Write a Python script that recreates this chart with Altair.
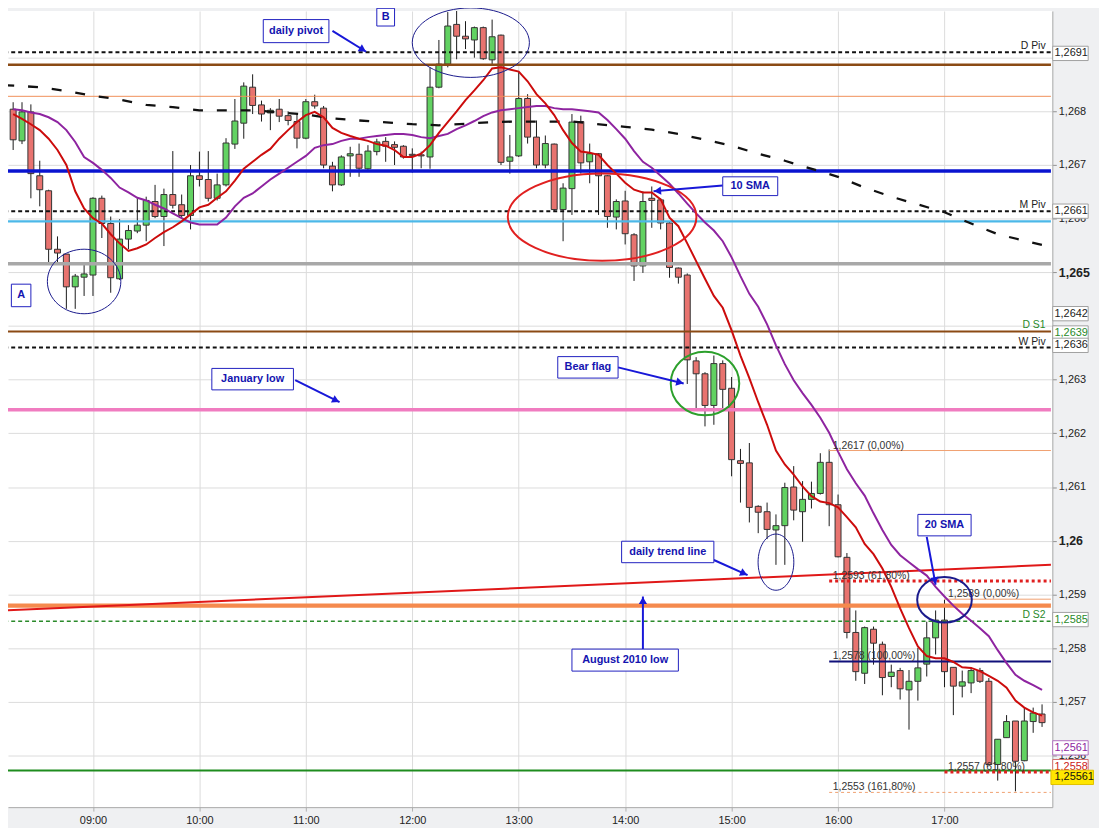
import math
import altair as alt
import pandas as pd

# ---------------- data ----------------
times = [
    "08:15", "08:20", "08:25", "08:30", "08:35", "08:40", "08:45", "08:50", "08:55",
    "09:00", "09:05", "09:10", "09:15", "09:20", "09:25", "09:30", "09:35", "09:40", "09:45", "09:50", "09:55",
    "10:00", "10:05", "10:10", "10:15", "10:20", "10:25", "10:30", "10:35", "10:40", "10:45", "10:50", "10:55",
    "11:00", "11:05", "11:10", "11:15", "11:20", "11:25", "11:30", "11:35", "11:40", "11:45", "11:50", "11:55",
    "12:00", "12:05", "12:10", "12:15", "12:20", "12:25", "12:30", "12:35", "12:40", "12:45", "12:50", "12:55",
    "13:00", "13:05", "13:10", "13:15", "13:20", "13:25", "13:30", "13:35", "13:40", "13:45", "13:50", "13:55",
    "14:00", "14:05", "14:10", "14:15", "14:20", "14:25", "14:30", "14:35", "14:40", "14:45", "14:50", "14:55",
    "15:00", "15:05", "15:10", "15:15", "15:20", "15:25", "15:30", "15:35", "15:40", "15:45", "15:50", "15:55",
    "16:00", "16:05", "16:10", "16:15", "16:20", "16:25", "16:30", "16:35", "16:40", "16:45", "16:50", "16:55",
    "17:00", "17:05", "17:10", "17:15", "17:20", "17:25", "17:30", "17:35", "17:40", "17:45", "17:50", "17:55",
]
opens = [
    1.26804, 1.26745, 1.26799, 1.26680, 1.26652, 1.26543, 1.26534, 1.26473, 1.26491,
    1.26495, 1.26638, 1.26591, 1.26488, 1.26562, 1.26577, 1.26588, 1.26632, 1.26604, 1.26645, 1.26626, 1.26606,
    1.26680, 1.26673, 1.26638, 1.26663, 1.26739, 1.26778, 1.26845, 1.26812, 1.26797, 1.26804, 1.26792, 1.26781,
    1.26750, 1.26818, 1.26806, 1.26698, 1.26663, 1.26717, 1.26720, 1.26693, 1.26725, 1.26744, 1.26738, 1.26735,
    1.26720, 1.26719, 1.26715, 1.26845, 1.26888, 1.26962, 1.26940, 1.26933, 1.26956, 1.26896, 1.26942, 1.26707,
    1.26717, 1.26824, 1.26752, 1.26700, 1.26739, 1.26617, 1.26656, 1.26781, 1.26706, 1.26721, 1.26680, 1.26603,
    1.26633, 1.26570, 1.26512, 1.26638, 1.26635, 1.26592, 1.26508, 1.26495, 1.26335, 1.26311, 1.26252, 1.26330,
    1.26284, 1.26149, 1.26145, 1.26064, 1.26054, 1.26020, 1.26028, 1.26100, 1.26054, 1.26077, 1.26088, 1.26146,
    1.26067, 1.25969, 1.25829, 1.25753, 1.25835, 1.25807, 1.25747, 1.25758, 1.25722, 1.25738, 1.25770, 1.25819,
    1.25852, 1.25764, 1.25729, 1.25735, 1.25758, 1.25738, 1.25583, 1.25633, 1.25664, 1.25590, 1.25663, 1.25677,
]
highs = [
    1.26817, 1.26817, 1.26813, 1.26708, 1.26654, 1.26567, 1.26534, 1.26497, 1.26514,
    1.26640, 1.26643, 1.26604, 1.26599, 1.26588, 1.26638, 1.26641, 1.26663, 1.26656, 1.26726, 1.26645, 1.26700,
    1.26725, 1.26726, 1.26684, 1.26750, 1.26823, 1.26854, 1.26869, 1.26820, 1.26806, 1.26823, 1.26800, 1.26795,
    1.26823, 1.26831, 1.26810, 1.26706, 1.26718, 1.26734, 1.26740, 1.26737, 1.26749, 1.26752, 1.26744, 1.26737,
    1.26731, 1.26725, 1.26882, 1.26933, 1.26985, 1.26993, 1.26968, 1.26958, 1.26958, 1.26971, 1.26943, 1.26756,
    1.26873, 1.26832, 1.26783, 1.26755, 1.26740, 1.26666, 1.26795, 1.26792, 1.26740, 1.26722, 1.26681, 1.26636,
    1.26652, 1.26573, 1.26651, 1.26660, 1.26638, 1.26595, 1.26509, 1.26498, 1.26342, 1.26314, 1.26345, 1.26336,
    1.26305, 1.26171, 1.26182, 1.26066, 1.26071, 1.26049, 1.26108, 1.26139, 1.26111, 1.26110, 1.26163, 1.26170,
    1.26086, 1.25977, 1.25870, 1.25840, 1.25840, 1.25812, 1.25769, 1.25763, 1.25759, 1.25800, 1.25849, 1.25870,
    1.25890, 1.25764, 1.25758, 1.25764, 1.25763, 1.25744, 1.25630, 1.25675, 1.25664, 1.25689, 1.25689, 1.25695,
]
lows = [
    1.26728, 1.26739, 1.26638, 1.26623, 1.26517, 1.26517, 1.26432, 1.26432, 1.26456,
    1.26456, 1.26564, 1.26462, 1.26486, 1.26543, 1.26573, 1.26558, 1.26601, 1.26549, 1.26619, 1.26601, 1.26580,
    1.26660, 1.26632, 1.26634, 1.26660, 1.26730, 1.26749, 1.26795, 1.26781, 1.26765, 1.26780, 1.26774, 1.26731,
    1.26748, 1.26805, 1.26694, 1.26651, 1.26661, 1.26678, 1.26678, 1.26691, 1.26718, 1.26706, 1.26700, 1.26712,
    1.26686, 1.26694, 1.26693, 1.26843, 1.26882, 1.26897, 1.26916, 1.26900, 1.26896, 1.26885, 1.26700, 1.26684,
    1.26715, 1.26740, 1.26694, 1.26694, 1.26614, 1.26558, 1.26607, 1.26684, 1.26666, 1.26607, 1.26583, 1.26580,
    1.26552, 1.26484, 1.26499, 1.26583, 1.26580, 1.26490, 1.26479, 1.26292, 1.26247, 1.26213, 1.26216, 1.26247,
    1.26120, 1.26071, 1.26034, 1.26014, 1.26003, 1.25955, 1.25955, 1.26038, 1.25998, 1.26060, 1.26086, 1.26027,
    1.25969, 1.25818, 1.25739, 1.25733, 1.25769, 1.25712, 1.25727, 1.25704, 1.25648, 1.25702, 1.25747, 1.25788,
    1.25727, 1.25675, 1.25708, 1.25716, 1.25735, 1.25583, 1.25553, 1.25633, 1.25533, 1.25589, 1.25642, 1.25653,
]
closes = [
    1.26747, 1.26799, 1.26684, 1.26654, 1.26543, 1.26536, 1.26473, 1.26493, 1.26497,
    1.26638, 1.26591, 1.26490, 1.26562, 1.26578, 1.26588, 1.26634, 1.26604, 1.26645, 1.26625, 1.26606, 1.26680,
    1.26673, 1.26638, 1.26663, 1.26741, 1.26782, 1.26847, 1.26811, 1.26795, 1.26802, 1.26791, 1.26783, 1.26750,
    1.26818, 1.26810, 1.26700, 1.26663, 1.26715, 1.26721, 1.26694, 1.26726, 1.26743, 1.26735, 1.26733, 1.26715,
    1.26718, 1.26717, 1.26845, 1.26888, 1.26959, 1.26940, 1.26935, 1.26956, 1.26898, 1.26939, 1.26705, 1.26715,
    1.26824, 1.26752, 1.26700, 1.26740, 1.26617, 1.26657, 1.26780, 1.26704, 1.26721, 1.26680, 1.26604, 1.26632,
    1.26572, 1.26512, 1.26632, 1.26634, 1.26592, 1.26509, 1.26491, 1.26337, 1.26311, 1.26252, 1.26330, 1.26282,
    1.26151, 1.26144, 1.26062, 1.26053, 1.26021, 1.26028, 1.26099, 1.26057, 1.26077, 1.26088, 1.26146, 1.26067,
    1.25970, 1.25829, 1.25756, 1.25838, 1.25809, 1.25745, 1.25755, 1.25724, 1.25738, 1.25763, 1.25819, 1.25852,
    1.25756, 1.25729, 1.25737, 1.25758, 1.25738, 1.25583, 1.25630, 1.25663, 1.25589, 1.25664, 1.25679, 1.25661,
]
sma10 = [
    1.26795, 1.26786, 1.26776, 1.26765, 1.26749, 1.26728, 1.26700, 1.26651, 1.26619,
    1.26601, 1.26591, 1.26571, 1.26554, 1.26540, 1.26545, 1.26552, 1.26564, 1.26575, 1.26584, 1.26595, 1.26608,
    1.26621, 1.26626, 1.26639, 1.26651, 1.26671, 1.26693, 1.26706, 1.26719, 1.26730, 1.26749, 1.26765, 1.26780,
    1.26793, 1.26799, 1.26789, 1.26769, 1.26760, 1.26754, 1.26749, 1.26745, 1.26739, 1.26736, 1.26728, 1.26715,
    1.26715, 1.26721, 1.26737, 1.26760, 1.26780, 1.26800, 1.26821, 1.26839, 1.26858, 1.26880, 1.26882, 1.26878,
    1.26874, 1.26856, 1.26832, 1.26815, 1.26793, 1.26765, 1.26741, 1.26725, 1.26723, 1.26719, 1.26700, 1.26684,
    1.26667, 1.26654, 1.26649, 1.26649, 1.26636, 1.26602, 1.26586, 1.26554, 1.26521, 1.26488, 1.26456, 1.26434,
    1.26392, 1.26345, 1.26303, 1.26258, 1.26216, 1.26168, 1.26142, 1.26123, 1.26101, 1.26083, 1.26073, 1.26070,
    1.26062, 1.26044, 1.26025, 1.25994, 1.25975, 1.25948, 1.25914, 1.25874, 1.25837, 1.25803, 1.25785, 1.25781,
    1.25781, 1.25774, 1.25764, 1.25763, 1.25757, 1.25748, 1.25739, 1.25726, 1.25702, 1.25689, 1.25680, 1.25674,
]
sma20 = [
    1.26804, 1.26802, 1.26798, 1.26795, 1.26789, 1.26780, 1.26765, 1.26743, 1.26715,
    1.26704, 1.26691, 1.26676, 1.26658, 1.26649, 1.26639, 1.26634, 1.26626, 1.26619, 1.26610, 1.26601, 1.26593,
    1.26589, 1.26589, 1.26589, 1.26602, 1.26623, 1.26639, 1.26647, 1.26660, 1.26673, 1.26684, 1.26695, 1.26706,
    1.26717, 1.26732, 1.26737, 1.26739, 1.26745, 1.26749, 1.26749, 1.26752, 1.26754, 1.26756, 1.26758, 1.26758,
    1.26756, 1.26752, 1.26750, 1.26754, 1.26758, 1.26767, 1.26774, 1.26782, 1.26791, 1.26798, 1.26802, 1.26804,
    1.26806, 1.26808, 1.26810, 1.26810, 1.26806, 1.26804, 1.26804, 1.26802, 1.26800, 1.26798, 1.26784, 1.26767,
    1.26749, 1.26726, 1.26706, 1.26695, 1.26680, 1.26665, 1.26647, 1.26628, 1.26610, 1.26593, 1.26578, 1.26558,
    1.26528, 1.26493, 1.26460, 1.26436, 1.26403, 1.26364, 1.26329, 1.26299, 1.26275, 1.26253, 1.26229, 1.26201,
    1.26166, 1.26133, 1.26107, 1.26084, 1.26051, 1.26020, 1.25992, 1.25973, 1.25960, 1.25947, 1.25935, 1.25914,
    1.25896, 1.25879, 1.25864, 1.25851, 1.25837, 1.25822, 1.25796, 1.25772, 1.25750, 1.25739, 1.25731, 1.25722,
]

# long (dashed) moving average, read at a coarser step
ma_times = ["08:10", "08:30", "08:45", "09:00", "09:15", "09:30", "09:45", "10:00", "10:15", "10:30",
            "11:00", "11:15", "11:30", "12:00", "12:15", "12:30", "12:45", "13:00", "13:30", "14:00",
            "14:15", "14:30", "14:45", "15:00", "15:15", "15:30", "16:00", "16:15", "16:30", "17:00",
            "17:15", "17:30", "18:00"]
ma_values = [1.26849, 1.26845, 1.26838, 1.26829, 1.26822, 1.26812, 1.26808, 1.26802, 1.26802, 1.26802,
             1.26794, 1.26787, 1.26783, 1.26776, 1.26774, 1.26777, 1.26780, 1.26781, 1.26781, 1.26771,
             1.26766, 1.26758, 1.26747, 1.26736, 1.26721, 1.26708, 1.26678, 1.26658, 1.26641, 1.26612,
             1.26591, 1.26571, 1.26547]

# horizontal levels (full width)
level_names = ["brown_r", "orange_r", "D Piv", "blue", "light_blue", "M Piv", "gray",
               "D S1", "W Piv", "January low", "August 2010 low", "D S2", "green_low"]
level_prices = [1.26887, 1.26828, 1.2691, 1.26689, 1.26595, 1.26614, 1.26516,
                1.2639, 1.2636, 1.26244, 1.25879, 1.2585, 1.25572]

# fibonacci levels (start at a given candle)
fib_texts = ["1,2617 (0,00%)", "1,2593 (61,80%)", "1,2578 (100,00%)", "1,2553 (161,80%)",
             "1,2589 (0,00%)", "1,2557 (61,80%)"]
fib_prices = [1.26168, 1.25925, 1.25775, 1.25531, 1.25891, 1.25569]
fib_starts = ["15:55", "15:55", "15:55", "15:55", "17:00", "17:00"]

# daily trend line
trend_times = ["08:10", "18:00"]
trend_prices = [1.25870, 1.25955]

# line names written at the right end of the plot
tag_texts = ["D Piv", "M Piv", "D S1", "W Piv", "D S2"]
tag_prices = [1.2691, 1.26614, 1.2639, 1.2636, 1.2585]

# price boxes on the right axis
pbox_texts = ["1,2691", "1,2661", "1,2642", "1,2639", "1,2636", "1,2585", "1,2561", "1,2558", "1,25561"]
pbox_prices = [1.26908, 1.26614, 1.26423, 1.26387, 1.26364, 1.25853, 1.25614, 1.25579, 1.25559]

# annotation boxes
note_texts = ["daily pivot", "B", "A", "10 SMA", "Bear flag", "January low",
              "daily trend line", "August 2010 low", "20 SMA"]
note_t0 = ["10:36", "11:40", "08:14", "14:55", "13:22", "10:07", "13:58", "13:30", "16:45"]
note_t1 = ["11:13", "11:50", "08:25", "15:26", "13:56", "10:53", "14:50", "14:30", "17:15"]
note_top = [1.26971, 1.26992, 1.26478, 1.26678, 1.26343, 1.26321, 1.25999, 1.25798, 1.26049]
note_bottom = [1.26928, 1.26959, 1.26436, 1.26643, 1.26303, 1.26281, 1.25959, 1.25757, 1.26009]

# arrows
arrow_t0 = ["11:15", "14:55", "13:56", "10:54", "14:50", "14:10", "16:50"]
arrow_p0 = [1.26950, 1.26662, 1.26323, 1.26299, 1.25964, 1.25798, 1.26007]
arrow_t1 = ["11:34", "14:16", "14:33", "11:19", "15:09", "14:10", "16:55"]
arrow_p1 = [1.26911, 1.26651, 1.26293, 1.26258, 1.25936, 1.25896, 1.25918]

# ellipses
ell_t = ["08:55", "12:33", "13:47", "14:45", "15:25", "17:00"]
ell_p = [1.26483, 1.26928, 1.26603, 1.26293, 1.25960, 1.25890]

x_tick_labels = ["09:00", "10:00", "11:00", "12:00", "13:00", "14:00", "15:00", "16:00", "17:00"]
y_ticks = [1.256, 1.257, 1.258, 1.259, 1.26, 1.261, 1.262, 1.263, 1.264, 1.265,
           1.266, 1.267, 1.268, 1.269]
# tick labels that are covered by price boxes in the picture
y_hidden_labels = [1.264, 1.269]


def tmin(s):
    h, m = s.split(":")
    return int(h) * 60 + int(m)


# ---------------- layout / scales ----------------
W, H = 1052, 802
X_DOM = [494.9, 1078.0]
Y_DOM = [1.255035, 1.26987]
PX_MIN = W / (X_DOM[1] - X_DOM[0])
PX_PRICE = H / (Y_DOM[1] - Y_DOM[0])
FONT = "Liberation Sans"
xs = alt.Scale(domain=X_DOM, nice=False, zero=False)
ys = alt.Scale(domain=Y_DOM, nice=False, zero=False)

x_axis = alt.Axis(
    values=[tmin(s) for s in x_tick_labels],
    labelExpr="(datum.value < 600 ? '0' : '') + floor(datum.value / 60) + ':00'",
    grid=True, gridColor="#dcdcdc", gridWidth=1,
    domainColor="#a8a8a8", tickColor="#b0b0b0", tickSize=4,
    labelFont=FONT, labelFontSize=11, labelColor="#222222", labelPadding=3,
    labelOverlap=False, labelFlush=False, title=None,
)
bold_test = "abs(datum.value * 200 - round(datum.value * 200)) < 0.01"
hide_test = " || ".join(f"abs(datum.value - {v}) < 0.0001" for v in y_hidden_labels)
y_axis = alt.Axis(
    orient="right", values=y_ticks,
    labelExpr=f"({hide_test}) ? '' : replace(format(datum.value, '.3~f'), '.', ',')",
    grid=True, gridColor="#dcdcdc", gridWidth=1,
    domainColor="#a8a8a8", tickColor="#909090", tickSize=4,
    labelFont=FONT, labelColor="#222222", labelPadding=2, labelOverlap=False, labelFlush=False,
    labelFontSize={"condition": {"test": bold_test, "value": 12.5}, "value": 11},
    labelFontWeight={"condition": {"test": bold_test, "value": "bold"}, "value": "normal"},
    title=None,
)


def X(f):
    return alt.X(f, type="quantitative", scale=xs, axis=x_axis)


def Y(f):
    return alt.Y(f, type="quantitative", scale=ys, axis=y_axis)


layers = []

# ---------------- candles ----------------
cdf = pd.DataFrame({"t": [tmin(s) for s in times], "o": opens, "h": highs, "l": lows, "c": closes})
cdf["dir"] = ["up" if c >= o else "down" for o, c in zip(opens, closes)]

wick = alt.Chart(cdf).mark_rule(color="#1a1a1a", strokeWidth=1, clip=True).encode(
    x=X("t"), y=Y("l"), y2="h:Q",
)
body = alt.Chart(cdf).mark_bar(width=6, stroke="#333333", strokeWidth=1, clip=True).encode(
    x=X("t"), y=Y("o"), y2="c:Q",
    color=alt.Color("dir:N", scale=alt.Scale(domain=["up", "down"], range=["#62d262", "#e8736f"]), legend=None),
)
layers += [wick, body]

# ---------------- horizontal levels ----------------
level_style = {
    "brown_r": dict(color="#8b4a14", strokeWidth=2.5),
    "orange_r": dict(color="#f0905a", strokeWidth=1),
    "D Piv": dict(color="#111111", strokeWidth=2, strokeDash=[4, 3]),
    "blue": dict(color="#0a14d0", strokeWidth=3.5),
    "light_blue": dict(color="#4cb8e8", strokeWidth=2.5),
    "M Piv": dict(color="#111111", strokeWidth=2, strokeDash=[4, 3]),
    "gray": dict(color="#a8a8a8", strokeWidth=3.5),
    "D S1": dict(color="#8b4a14", strokeWidth=2),
    "W Piv": dict(color="#111111", strokeWidth=2, strokeDash=[4, 3]),
    "January low": dict(color="#f07cc0", strokeWidth=3.5),
    "August 2010 low": dict(color="#f58a4e", strokeWidth=4.5),
    "D S2": dict(color="#2a8a2a", strokeWidth=1.5, strokeDash=[4, 3]),
    "green_low": dict(color="#1e8c1e", strokeWidth=2),
}
for name, p in zip(level_names, level_prices):
    d = pd.DataFrame({"t0": [tmin("08:10")], "t1": [tmin("18:00")], "p": [p]})
    layers.append(alt.Chart(d).mark_rule(clip=True, **level_style[name]).encode(
        x=X("t0"), x2="t1:Q", y=Y("p")))

# trend line
tdf = pd.DataFrame({"t0": [tmin(trend_times[0])], "t1": [tmin(trend_times[1])],
                    "p0": [trend_prices[0]], "p1": [trend_prices[1]]})
layers.append(alt.Chart(tdf).mark_rule(color="#e01818", strokeWidth=2, clip=True).encode(
    x=X("t0"), x2="t1:Q", y=Y("p0"), y2="p1:Q"))

# fib lines
fib_style = [
    dict(color="#f0a070", strokeWidth=1),
    dict(color="#e02020", strokeWidth=3, strokeDash=[3, 3]),
    dict(color="#10107a", strokeWidth=2),
    dict(color="#f0a070", strokeWidth=1, strokeDash=[3, 3]),
    dict(color="#f0a070", strokeWidth=1),
    dict(color="#e02020", strokeWidth=3, strokeDash=[3, 3]),
]
for st, p, s in zip(fib_style, fib_prices, fib_starts):
    d = pd.DataFrame({"t0": [tmin(s)], "t1": [tmin("18:00")], "p": [p]})
    layers.append(alt.Chart(d).mark_rule(clip=True, **st).encode(x=X("t0"), x2="t1:Q", y=Y("p")))

# ---------------- moving averages ----------------
madf = pd.DataFrame({"t": [tmin(s) for s in ma_times], "v": ma_values})
layers.append(alt.Chart(madf).mark_line(color="#111111", strokeWidth=2.3, strokeDash=[10, 14], clip=True)
              .encode(x=X("t"), y=Y("v")))
sdf = pd.DataFrame({"t": [tmin(s) for s in times], "s10": sma10, "s20": sma20})
layers.append(alt.Chart(sdf).mark_line(color="#8e24a0", strokeWidth=2, clip=True).encode(x=X("t"), y=Y("s20")))
layers.append(alt.Chart(sdf).mark_line(color="#cc0c0c", strokeWidth=2, clip=True).encode(x=X("t"), y=Y("s10")))

# ---------------- texts on lines ----------------
tag_colors = {"D Piv": "#222222", "M Piv": "#222222", "D S1": "#2a8a2a", "W Piv": "#222222", "D S2": "#2a8a2a"}
for txt, p in zip(tag_texts, tag_prices):
    d = pd.DataFrame({"t": [tmin("17:57")], "p": [p], "txt": [txt]})
    layers.append(alt.Chart(d).mark_text(align="right", baseline="middle", dy=-6, font=FONT,
                                         fontSize=10.5, color=tag_colors[txt])
                  .encode(x=X("t"), y=Y("p"), text="txt:N"))

fdf = pd.DataFrame({"t": [tmin(s) + 2 for s in fib_starts], "p": fib_prices, "txt": fib_texts})
layers.append(alt.Chart(fdf).mark_text(align="left", baseline="middle", dy=-5, font=FONT,
                                       fontSize=10.5, color="#333333")
              .encode(x=X("t"), y=Y("p"), text="txt:N"))

# ---------------- price boxes on the axis ----------------
pbox_style = {
    "1,2691": ("#222222", "#a0a0a0", "white"),
    "1,2661": ("#222222", "#a0a0a0", "white"),
    "1,2642": ("#222222", "#a0a0a0", "white"),
    "1,2639": ("#2a8a2a", "#a0a0a0", "white"),
    "1,2636": ("#222222", "#a0a0a0", "white"),
    "1,2585": ("#2a8a2a", "#a0a0a0", "white"),
    "1,2561": ("#8e24a0", "#b070c0", "white"),
    "1,2558": ("#cc2020", "#d07070", "white"),
    "1,25561": ("#111111", "#e0c000", "#ffe600"),
}
half = 7.2 / PX_PRICE
for txt, p in zip(pbox_texts, pbox_prices):
    tc, bc, fc = pbox_style[txt]
    right = tmin("18:24") if len(txt) > 6 else tmin("18:21")
    d = pd.DataFrame({"t0": [tmin("18:00") if len(txt) > 6 else tmin("18:01")], "t1": [right],
                      "top": [p + half], "bot": [p - half], "p": [p], "tt": [tmin("18:02")], "txt": [txt]})
    base = alt.Chart(d)
    layers.append(base.mark_rect(fill=fc, stroke=bc, strokeWidth=1).encode(
        x=X("t0"), x2="t1:Q", y=Y("top"), y2="bot:Q"))
    layers.append(base.mark_text(align="left", baseline="middle", font=FONT, fontSize=11, color=tc)
                  .encode(x=X("tt"), y=Y("p"), text="txt:N"))

# ---------------- ellipses ----------------
ell_radii = [(37, 32.5), (59, 35), (95, 44), (34.5, 32), (18, 28.3), (27.5, 23)]
ell_style = [("#1a1a8c", 1), ("#1a1a8c", 1), ("#e02020", 2), ("#2ca02c", 2), ("#1a1a8c", 1), ("#1a1a8c", 2)]
K = 0.5523
for t, p, (rx, ry), (col, sw) in zip(ell_t, ell_p, ell_radii, ell_style):
    m = max(rx, ry)
    a, b = rx / m, ry / m
    path = (f"M {a} 0 C {a} {K*b} {K*a} {b} 0 {b} C {-K*a} {b} {-a} {K*b} {-a} 0 "
            f"C {-a} {-K*b} {-K*a} {-b} 0 {-b} C {K*a} {-b} {a} {-K*b} {a} 0 Z")
    d = pd.DataFrame({"t": [tmin(t)], "p": [p]})
    layers.append(alt.Chart(d).mark_point(shape=path, filled=False, stroke=col, strokeWidth=sw,
                                          size=4 * m * m, opacity=1)
                  .encode(x=X("t"), y=Y("p")))

# ---------------- arrows ----------------
BLUE = "#1818d8"
rows = []
for t0s, p0, t1s, p1 in zip(arrow_t0, arrow_p0, arrow_t1, arrow_p1):
    t0, t1 = tmin(t0s), tmin(t1s)
    dx = (t1 - t0) * PX_MIN
    dy = -(p1 - p0) * PX_PRICE
    L = math.hypot(dx, dy)
    ux, uy = dx / L, dy / L
    ang = math.degrees(math.atan2(dx, -dy)) % 360
    rows.append({"t0": t0, "p0": p0, "t1": t1, "p1": p1,
                 "th": t1 - ux * 4 / PX_MIN, "ph": p1 + uy * 4 / PX_PRICE, "ang": ang})
adf = pd.DataFrame(rows)
layers.append(alt.Chart(adf).mark_rule(color=BLUE, strokeWidth=2).encode(
    x=X("t0"), x2="t1:Q", y=Y("p0"), y2="p1:Q"))
layers.append(alt.Chart(adf).mark_point(shape="triangle-up", filled=True, color=BLUE, size=70, opacity=1)
              .encode(x=X("th"), y=Y("ph"), angle=alt.Angle("ang:Q", scale=None)))

# ---------------- annotation boxes ----------------
ndf = pd.DataFrame({
    "t0": [tmin(s) for s in note_t0], "t1": [tmin(s) for s in note_t1],
    "top": note_top, "bot": note_bottom, "txt": note_texts,
})
ndf["tc"] = (ndf["t0"] + ndf["t1"]) / 2
ndf["pc"] = (ndf["top"] + ndf["bot"]) / 2
layers.append(alt.Chart(ndf).mark_rect(fill="white", stroke="#2020c0", strokeWidth=1).encode(
    x=X("t0"), x2="t1:Q", y=Y("top"), y2="bot:Q"))
layers.append(alt.Chart(ndf).mark_text(align="center", baseline="middle", font=FONT, fontSize=11,
                                       fontWeight="bold", color="#1414b0")
              .encode(x=X("tc"), y=Y("pc"), text="txt:N"))

chart = alt.layer(*layers).properties(
    width=W, height=H,
    background="#eff0f2",
    padding={"left": 0, "top": 0, "right": 47, "bottom": 20},
    autosize=alt.AutoSizeParams(type="none"),
).configure_view(stroke=None, fill="white")

chart.save("out.html", embed_options={"renderer": "svg", "actions": False})
